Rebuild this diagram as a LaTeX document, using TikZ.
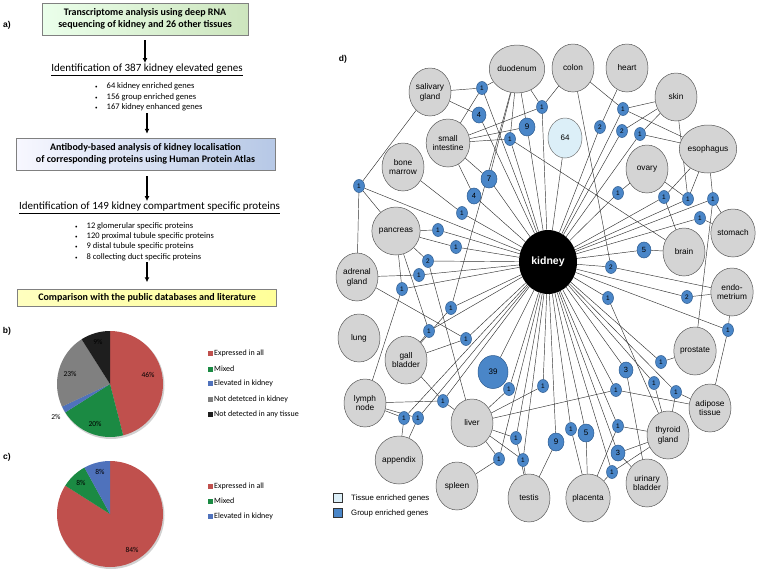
\documentclass[tikz,border=0pt]{standalone}
\usepackage{fontspec}
\setmainfont{Liberation Sans}
\newfontfamily\calib{Carlito}
\usetikzlibrary{shapes.geometric,arrows.meta,backgrounds}
\definecolor{pred}{HTML}{C0504D}
\definecolor{pgreen}{HTML}{1B8A43}
\definecolor{pblue}{HTML}{4F72BC}
\definecolor{pgray}{HTML}{808080}
\definecolor{pblack}{HTML}{1E1E1E}
\definecolor{grpblue}{HTML}{4A86C8}
\definecolor{grpedge}{HTML}{2B5A8E}
\definecolor{tisblue}{HTML}{DCEFF8}
\definecolor{tisgray}{HTML}{D4D4D4}
\definecolor{boxblue}{HTML}{B6C8E6}
\definecolor{boxgreen}{HTML}{CDE5BE}
\begin{document}
\begin{tikzpicture}[x=1pt,y=-1pt,every node/.style={font=\fontsize{8}{9.5}\selectfont},
        plab/.style={font=\bfseries\fontsize{8.5}{10}\selectfont,inner sep=0pt},
        flowbox/.style={draw=black!50,line width=0.5pt,align=center,inner sep=0pt,
            font=\calib\bfseries\fontsize{10}{12}\selectfont},
        idline/.style={font=\calib\fontsize{11}{12}\selectfont,inner sep=1pt},
        bul/.style={font=\calib\fontsize{8.5}{10.3}\selectfont,align=left,inner sep=0pt,anchor=west},
        flow/.style={-{Latex[length=5pt,width=5pt]},line width=1.3pt},
        pct/.style={font=\calib\fontsize{7.5}{8}\selectfont,inner sep=0pt},
        lsq/.style={minimum size=5pt,inner sep=0pt},
        ltxt/.style={font=\calib\fontsize{8}{8}\selectfont,inner sep=0pt,anchor=west},
        tis/.style={ellipse,draw=black!65,fill=tisgray,line width=0.5pt,minimum width=42pt,
            minimum height=48pt,inner sep=0pt,align=center,font=\fontsize{8.3}{9.8}\selectfont},
        grp/.style={ellipse,draw=grpedge,fill=grpblue,line width=0.5pt,minimum width=11pt,
            minimum height=13pt,inner sep=0pt,font=\fontsize{6.5}{6.5}\selectfont},
        grpm/.style={grp,minimum width=14pt,minimum height=16pt,font=\fontsize{7.5}{7.5}\selectfont},
        grpb/.style={grp,minimum width=16pt,minimum height=18pt,font=\fontsize{8}{8}\selectfont},
        link/.style={draw=black!80,line width=0.45pt},
        nsq/.style={draw=black!80,line width=0.5pt,minimum size=9pt,inner sep=0pt},
        ntxt/.style={font=\fontsize{7.8}{8}\selectfont,inner sep=0pt,anchor=west}]
    \useasboundingbox (0,0) rectangle (758,576);
    % a) workflow
    \node[plab] (la) at (7,25) {a)};
    \node[flowbox,minimum width=206pt,minimum height=32pt,left color=green!8,right color=boxgreen] (tr) at (145,19)
        {Transcriptome analysis using deep RNA\\sequencing of kidney and 26 other tissues};
    \node[idline] (id1) at (147,70) {\underline{Identification of 387 kidney elevated genes}};
    \node[bul] (bl1) at (95,97) {{\fontsize{5}{5}\selectfont\textbullet}\hspace{9pt}64 kidney enriched genes\\
        {\fontsize{5}{5}\selectfont\textbullet}\hspace{9pt}156 group enriched genes\\
        {\fontsize{5}{5}\selectfont\textbullet}\hspace{9pt}167 kidney enhanced genes};
    \node[flowbox,minimum width=259pt,minimum height=32pt,left color=blue!3,right color=boxblue] (ab) at (145.5,154)
        {Antibody-based analysis of kidney localisation\\of corresponding proteins using Human Protein Atlas};
    \node[idline] (id2) at (149.5,208) {\underline{Identification of 149 kidney compartment specific proteins}};
    \node[bul] (bl2) at (75,241.5) {{\fontsize{5}{5}\selectfont\textbullet}\hspace{9pt}12 glomerular specific proteins\\
        {\fontsize{5}{5}\selectfont\textbullet}\hspace{9pt}120 proximal tubule specific proteins\\
        {\fontsize{5}{5}\selectfont\textbullet}\hspace{9pt}9 distal tubule specific proteins\\
        {\fontsize{5}{5}\selectfont\textbullet}\hspace{9pt}8 collecting duct specific proteins};
    \node[flowbox,minimum width=259pt,minimum height=17pt,left color=yellow!25,right color=yellow!40] (cmp) at (147,298)
        {Comparison with the public databases and literature};
    \draw[flow,shorten <=5pt] (tr.south) -- (tr.south |- id1.north);
    \draw[flow,shorten >=4pt] (147,113) -- (147,0 |- ab.north);
    \draw[flow,shorten <=6pt] (147,0 |- ab.south) -- (147,0 |- id2.north);
    \draw[flow,shorten >=7pt] (147,262) -- (147,0 |- cmp.north);
    % b) pie
    \node[plab] (lb) at (7,331) {b)};
    \coordinate (pb) at (110,384);
    \fill[black!18] ([xshift=1pt,yshift=-1.5pt]pb) circle[radius=53.5pt];
    \foreach \a/\b/\c in {90/-75.6/pred,-75.6/-147.6/pgreen,-147.6/-154.8/pblue,-154.8/-237.6/pgray,-237.6/-270/pblack}
        \fill[\c] (pb) -- ++(\a:53pt) arc[start angle=\a,end angle=\b,radius=53pt] -- cycle;
    \node[pct] (b46) at (148,375) {46\%};
    \node[pct] (b20) at (95,424) {20\%};
    \node[pct] (b2) at (56,417) {2\%};
    \node[pct] (b23) at (70,374) {23\%};
    \node[pct] (b9) at (98,342) {9\%};
    \foreach \y/\c/\t [count=\i] in {353/pred/Expressed in all,369/pgreen/Mixed,383/pblue/Elevated in kidney,
            399/pgray/Not detetced in kidney,414/pblack/Not detected in any tissue}{
        \node[lsq,fill=\c] (sb\i) at (210,\y) {};
        \node[ltxt] (tb\i) at (214,\y) {\t};
    }
    % c) pie
    \node[plab] (lc) at (7,457) {c)};
    \coordinate (pc) at (110,514);
    \fill[black!18] ([xshift=1pt,yshift=-1.5pt]pc) circle[radius=53.5pt];
    \foreach \a/\b/\c in {90/-212.4/pred,-212.4/-241.2/pgreen,-241.2/-270/pblue}
        \fill[\c] (pc) -- ++(\a:53pt) arc[start angle=\a,end angle=\b,radius=53pt] -- cycle;
    \node[pct] (c84) at (132,550) {84\%};
    \node[pct] (c8g) at (81,483) {8\%};
    \node[pct] (c8b) at (100,472) {8\%};
    \foreach \y/\c/\t [count=\i] in {486/pred/Expressed in all,501/pgreen/Mixed,516/pblue/Elevated in kidney}{
        \node[lsq,fill=\c] (sc\i) at (210,\y) {};
        \node[ltxt] (tc\i) at (214,\y) {\t};
    }
    % d) network
    \node[plab] (ld) at (343,59) {d)};
    \node[ellipse,fill=black,minimum width=58pt,minimum height=64pt,inner sep=0pt,text=white,
        font=\bfseries\fontsize{10.5}{12}\selectfont] (kid) at (548,262) {kidney};
    \foreach \n/\x/\y/\t in {sal/430/92/salivary\\gland, duo/517/69/duodenum, col/573/68/colon, hea/627/68/heart,
            ski/676/97/skin, eso/708/149/esophagus, ova/647/169/ovary, sin/448/143/small\\intestine,
            bon/403/167/bone\\marrow, pan/396/231/pancreas, adr/357/277/adrenal\\gland, lun/359/338/lung,
            gal/406/360/gall\\bladder, lym/365/403/lymph\\node, app/399/460/appendix, liv/472/423/liver,
            spl/457/486/spleen, tes/529/498/testis, pla/588/498/placenta, uri/647/483/urinary\\bladder,
            thy/668/435/thyroid\\gland, adi/710/408/adipose\\tissue, pro/695/351/prostate,
            end/732/292/endo-\\metrium, sto/733/233/stomach, bra/684/252/brain}
        \node[tis] (\n) at (\x,\y) {\t};
    \foreach \n/\x/\y/\v in {1/482/88/1, 4/510/139/1, 5/542/107/1, 8/359/186/1, 9/623/109/1, 10/600/127/2,
            11/622/131/2, 12/640/134/1, 13/618/193/1, 14/664/197/1, 15/688/199/1, 16/713/199/1, 17/700/218/1,
            19/611/267/2, 20/608/298/1, 21/687/297/2, 22/728/330/1, 23/661/362/1, 25/654/383/1, 26/543/386/1,
            27/616/390/1, 28/676/392/1, 30/571/429/1, 32/618/426/1, 34/612/472/1, 35/428/261/2, 36/451/308/1,
            37/429/331/1, 38/466/339/1, 39/509/389/1, 40/443/401/1, 41/516/438/1, 42/462/213/1, 43/438/230/1,
            44/456/247/1, 45/419/275/1, 46/402/289/1, 47/404/418/1, 48/418/418/1, 49/499/459/1, 50/523/460/1}
        \node[grp] (g\n) at (\x,\y) {\v};
    \foreach \n/\x/\y/\v in {2/479/115/4, 7/474/196/4, 18/644/250/5, 24/626/370/3, 33/618/453/3}
        \node[grpm] (g\n) at (\x,\y) {\v};
    \foreach \n/\x/\y/\v in {3/527/127/9, 6/489/179/7, 29/556/442/9, 31/586/433/5}
        \node[grpb] (g\n) at (\x,\y) {\v};
    \node[ellipse,draw=black!55,fill=tisblue,line width=0.5pt,minimum width=34pt,minimum height=40pt,
        inner sep=0pt,font=\fontsize{8}{8}\selectfont] (g64) at (565,138) {64};
    \node[grp,minimum width=30pt,minimum height=33pt,font=\fontsize{8}{8}\selectfont] (g39b) at (493,372) {39};
    \begin{scope}[on background layer]
        \foreach \n in {1,...,50,64,39b}
            \draw[link] (kid) -- (g\n);
        \foreach \t/\g in {sal/1,sal/2,sal/8,duo/1,duo/3,duo/4,duo/5,duo/6,duo/36,col/5,col/9,col/19,hea/10,
                ski/9,ski/11,ski/12,ski/15,eso/9,eso/12,eso/14,eso/15,eso/16,ova/13,ova/15,
                sin/1,sin/3,sin/4,sin/5,sin/6,sin/7,bon/42,pan/8,pan/43,pan/44,pan/35,pan/37,pan/46,
                adr/45,adr/38,adr/8,gal/37,gal/36,gal/38,gal/40,lym/40,lym/47,lym/48,lym/46,app/47,app/48,
                liv/39,liv/40,liv/41,liv/26,liv/27,liv/49,liv/50,liv/35,spl/49,tes/29,tes/41,tes/50,
                pla/30,pla/31,pla/32,pla/34,uri/24,uri/33,thy/20,thy/25,thy/28,thy/32,thy/33,thy/34,
                adi/22,adi/27,adi/28,pro/16,pro/23,end/19,end/21,end/22,sto/16,sto/17,bra/4,bra/14,bra/18}
            \draw[link] (\t) -- (g\g);
    \end{scope}
    \node[nsq,fill=tisblue] (sq1) at (338,498) {};
    \node[ntxt] (nt1) at (351,498) {Tissue enriched genes};
    \node[nsq,fill=grpblue] (sq2) at (338,513) {};
    \node[ntxt] (nt2) at (351,513) {Group enriched genes};
\end{tikzpicture}
\end{document}
